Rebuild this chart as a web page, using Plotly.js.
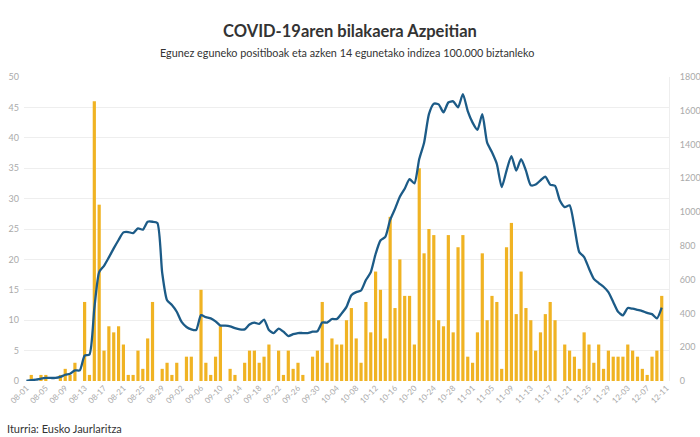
<!DOCTYPE html>
<html>
<head>
<meta charset="utf-8">
<script src="https://cdn.plot.ly/plotly-3.0.1.min.js"></script>
<style>
  html, body { margin: 0; padding: 0; background: #fff; }
  #chart { width: 700px; height: 437px; }
</style>
</head>
<body>
<div id="chart"></div>
<script>
// Daily dates: 2020-08-01 .. 2020-12-10 (axis runs to 12-11)
const startDate = '2020-08-01';
const axisStart = '2020-07-31 12:00';
const axisEnd = '2020-12-11 12:00';

// Daily positives (left axis)
const positives = [
  0, 1, 0, 1, 1, 0, 0, 1, 2, 1, 3, 0, 13, 1, 46, 29, 5, 9, 8, 9,
  6, 1, 1, 5, 2, 7, 13, 0, 2, 3, 1, 3, 0, 4, 4, 0, 15, 3, 1, 4,
  9, 0, 2, 1, 0, 3, 5, 5, 3, 4, 6, 0, 5, 1, 5, 2, 3, 1, 0, 4,
  5, 13, 3, 7, 6, 6, 10, 12, 7, 3, 13, 8, 18, 15, 7, 27, 12, 20, 14, 14,
  6, 35, 21, 25, 24, 10, 9, 24, 8, 22, 24, 4, 3, 8, 21, 10, 14, 13, 2, 22,
  26, 11, 18, 12, 10, 5, 8, 11, 13, 10, 0, 6, 5, 4, 2, 8, 6, 3, 6, 2,
  5, 4, 4, 4, 6, 5, 4, 2, 1, 4, 5, 14
];

// 14-day incidence per 100,000 inhabitants (right axis)
const incidence14 = [
  0, 5, 8, 14, 18, 18, 18, 24, 37, 43, 63, 63, 150, 157, 430, 645, 682, 732, 785, 835,
  880, 882, 876, 904, 896, 943, 943, 936, 640, 478, 450, 410, 350, 320, 306, 302, 390, 378, 371, 353,
  328, 328, 324, 313, 306, 306, 335, 346, 338, 364, 302, 284, 310, 292, 266, 277, 284, 284, 284, 292,
  295, 346, 346, 367, 367, 400, 439, 508, 526, 536, 598, 644, 752, 832, 853, 954, 1019, 1091, 1138, 1195,
  1170, 1314, 1411, 1580, 1642, 1638, 1591, 1649, 1656, 1620, 1699, 1598, 1530, 1487, 1580, 1411, 1354, 1285, 1148, 1246,
  1332, 1246, 1314, 1246, 1159, 1163, 1188, 1210, 1163, 1156, 1069, 1030, 1040, 911, 763, 734, 666, 605, 580, 558,
  526, 468, 410, 389, 432, 428, 421, 414, 403, 396, 371, 435
];

const titleText = 'COVID-19aren bilakaera Azpeitian';
const subtitleText = 'Egunez eguneko positiboak eta azken 14 egunetako indizea 100.000 biztanleko';
const sourceText = 'Iturria: Eusko Jaurlaritza';

function buildDates(start, n) {
  const out = [];
  const d0 = new Date(start + 'T00:00:00Z');
  for (let k = 0; k < n; k++) {
    const d = new Date(d0.getTime() + k * 86400000);
    out.push(d.toISOString().slice(0, 10));
  }
  return out;
}
const dates = buildDates(startDate, positives.length);

const FONT = 'Lato, "Noto Sans", sans-serif';

const traces = [
  {
    type: 'bar',
    x: dates,
    y: positives,
    yaxis: 'y',
    marker: { color: '#f0b323', line: { width: 0 } },
    width: 86400000 * 0.66,
    hoverinfo: 'x+y'
  },
  {
    type: 'scatter',
    mode: 'lines',
    x: dates,
    y: incidence14,
    yaxis: 'y2',
    line: { color: '#1c5b87', width: 2.3, shape: 'spline', smoothing: 0.6 },
    hoverinfo: 'x+y'
  }
];

const layout = {
  width: 700,
  height: 437,
  margin: { l: 24, r: 31, t: 77, b: 56, pad: 0 },
  paper_bgcolor: '#ffffff',
  plot_bgcolor: '#ffffff',
  showlegend: false,
  font: { family: FONT, color: '#999999', size: 9 },
  title: {
    text: '<b>' + titleText + '</b>',
    font: { family: FONT, size: 16.5, color: '#333333' },
    x: 0.5, xanchor: 'center',
    yref: 'container', y: 1 - 31 / 437, yanchor: 'middle'
  },
  xaxis: {
    type: 'date',
    range: [axisStart, axisEnd],
    tick0: startDate,
    dtick: 4 * 86400000,
    tickformat: '%m-%d',
    tickangle: -45,
    tickfont: { family: FONT, size: 8, color: '#aaaaaa' },
    showgrid: false,
    zeroline: false,
    showline: false,
    ticks: '',
    fixedrange: true
  },
  yaxis: {
    range: [0, 50],
    dtick: 5,
    showgrid: true,
    gridcolor: '#eeeeee',
    gridwidth: 1,
    zeroline: false,
    showline: false,
    ticks: '',
    tickfont: { family: FONT, size: 9, color: '#aaaaaa' },
    ticklabelstandoff: 4,
    fixedrange: true
  },
  yaxis2: {
    overlaying: 'y',
    side: 'right',
    range: [0, 1800],
    dtick: 200,
    showgrid: false,
    zeroline: false,
    showline: true,
    linecolor: '#eeeeee',
    linewidth: 1,
    ticks: '',
    tickfont: { family: FONT, size: 9, color: '#aaaaaa' },
    ticklabelstandoff: 8,
    fixedrange: true
  },
  bargap: 0.3,
  annotations: [
    {
      text: subtitleText,
      xref: 'paper', yref: 'paper',
      x: 0.5, y: (381 - 53) / 304,
      xanchor: 'center', yanchor: 'middle',
      showarrow: false,
      font: { family: FONT, size: 10.8, color: '#333333' }
    },
    {
      text: sourceText,
      xref: 'paper', yref: 'paper',
      x: (5 - 24) / 645, y: (381 - 428) / 304,
      xanchor: 'left', yanchor: 'middle',
      showarrow: false,
      font: { family: FONT, size: 11, color: '#333333' }
    }
  ]
};

Plotly.newPlot('chart', traces, layout, { displayModeBar: false, staticPlot: true });
</script>
</body>
</html>
